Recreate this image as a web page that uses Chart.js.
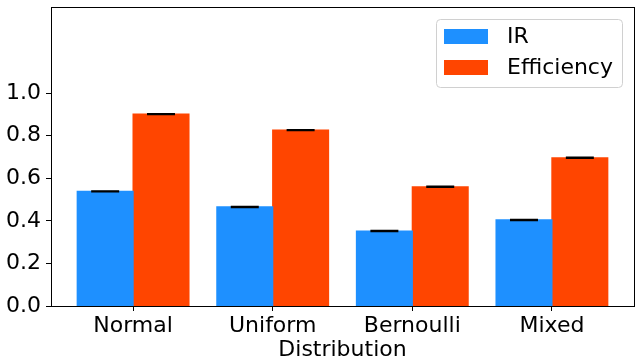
<!DOCTYPE html>
<html>
<head>
<meta charset="utf-8">
<script src="https://cdn.jsdelivr.net/npm/chart.js@4/dist/chart.umd.min.js"></script>
<style>
    html, body { margin: 0; padding: 0; background: #fff; }
    #wrap { width: 640px; height: 360px; }
</style>
</head>
<body>
<div id="wrap"><canvas id="chart"></canvas></div>
<script>
const categories = ["Normal", "Uniform", "Bernoulli", "Mixed"];
const irValues = [0.538, 0.465, 0.352, 0.404];
const irErrors = [0.002, 0.002, 0.002, 0.002];
const effValues = [0.901, 0.826, 0.560, 0.696];
const effErrors = [0.002, 0.002, 0.002, 0.002];
const yTicks = [0.0, 0.2, 0.4, 0.6, 0.8, 1.0];

const FONT = "'DejaVu Sans', sans-serif";

// error bars with caps, drawn from the bar elements
const errorBars = {
    id: "errorBars",
    afterDatasetsDraw(chart) {
        const ctx = chart.ctx;
        const y = chart.scales.y;
        ctx.save();
        ctx.strokeStyle = "#000";
        ctx.lineWidth = 1.5;
        chart.data.datasets.forEach((ds, i) => {
            const meta = chart.getDatasetMeta(i);
            meta.data.forEach((bar, j) => {
                const v = ds.data[j].y;
                const e = ds.errors[j];
                const top = y.getPixelForValue(v + e);
                const bot = y.getPixelForValue(v - e);
                ctx.beginPath();
                ctx.moveTo(bar.x, top);
                ctx.lineTo(bar.x, bot);
                ctx.moveTo(bar.x - 14, top);
                ctx.lineTo(bar.x + 14, top);
                ctx.moveTo(bar.x - 14, bot);
                ctx.lineTo(bar.x + 14, bot);
                ctx.stroke();
            });
        });
        ctx.restore();
    },
};

// frame + legend box in the upper right
const frameLegend = {
    id: "frameLegend",
    afterDraw(chart) {
        const ctx = chart.ctx;
        const a = chart.chartArea;
        ctx.save();
        ctx.strokeStyle = "#000";
        ctx.lineWidth = 1;
        ctx.strokeRect(a.left + 0.5, a.top + 0.5, a.right - a.left, a.bottom - a.top);

        const bx = 436, by = 19, bw = 186, bh = 68;
        ctx.fillStyle = "rgba(255,255,255,0.8)";
        ctx.strokeStyle = "#d0d0d0";
        ctx.beginPath();
        ctx.roundRect(bx + 0.5, by + 0.5, bw, bh, 4);
        ctx.fill();
        ctx.stroke();

        ctx.font = "22px " + FONT;
        ctx.textBaseline = "middle";
        chart.data.datasets.forEach((ds, i) => {
            const cy = by + 17 + i * 31;
            ctx.fillStyle = ds.backgroundColor;
            ctx.fillRect(444, cy - 7, 44, 15);
            ctx.fillStyle = "#000";
            ctx.fillText(ds.label, 507, cy + 1);
        });
        ctx.restore();
    },
};

new Chart(document.getElementById("chart"), {
    type: "bar",
    data: {
        datasets: [
            {
                label: "IR",
                data: irValues.map((v, i) => ({ x: i, y: v })),
                errors: irErrors,
                backgroundColor: "#1E90FF",
                borderWidth: 0,
                inflateAmount: 0.6,
            },
            {
                label: "Efficiency",
                data: effValues.map((v, i) => ({ x: i, y: v })),
                errors: effErrors,
                backgroundColor: "#FF4500",
                borderWidth: 0,
                inflateAmount: 0.6,
            },
        ],
    },
    options: {
        responsive: true,
        maintainAspectRatio: false,
        animation: false,
        layout: { padding: { top: 7, right: 6, left: 0, bottom: 0 } },
        datasets: { bar: { categoryPercentage: 0.8, barPercentage: 1.0 } },
        plugins: {
            legend: { display: false },
            tooltip: { enabled: false },
        },
        scales: {
            x: {
                type: "linear",
                offset: false,
                min: -0.588,
                max: 3.588,
                afterBuildTicks: (s) => {
                    s.ticks = categories.map((c, i) => ({ value: i }));
                },
                afterFit: (s) => {
                    s.height = 54;
                    s.paddingLeft = 0;
                    s.paddingRight = 0;
                },
                ticks: {
                    callback: (v) => categories[v],
                    color: "#000",
                    font: { family: FONT, size: 22 },
                    padding: 2,
                    maxRotation: 0,
                },
                grid: { offset: false, drawOnChartArea: false, drawTicks: true, tickLength: 5, color: "#000" },
                border: { display: true, color: "#000" },
                title: {
                    display: true,
                    text: "Distribution",
                    color: "#000",
                    font: { family: FONT, size: 22 },
                    padding: { top: 0, bottom: -3 },
                },
            },
            y: {
                min: 0,
                max: 1.404,
                afterBuildTicks: (s) => {
                    s.ticks = yTicks.map((v) => ({ value: v }));
                },
                afterFit: (s) => {
                    s.width = 51;
                    s.paddingTop = 0;
                    s.paddingBottom = 0;
                },
                ticks: {
                    callback: (v) => v.toFixed(1),
                    color: "#000",
                    font: { family: FONT, size: 22 },
                    padding: 5,
                },
                grid: { drawOnChartArea: false, drawTicks: true, tickLength: 5, color: "#000" },
                border: { display: true, color: "#000" },
            },
        },
    },
    plugins: [errorBars, frameLegend],
});
</script>
</body>
</html>
